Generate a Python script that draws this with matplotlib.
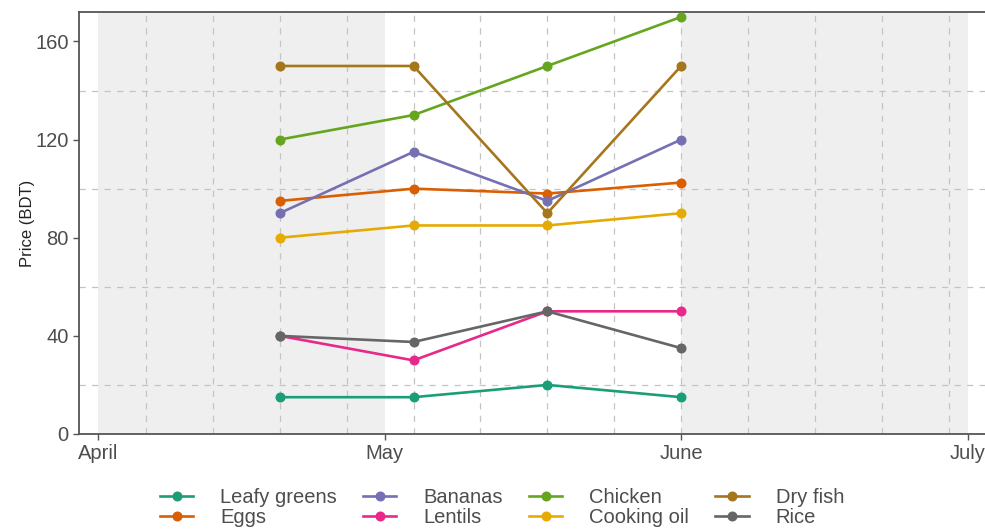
import datetime as dt

import matplotlib
matplotlib.use('Agg')
import matplotlib.pyplot as plt

plt.rcParams['font.family'] = ['Liberation Sans', 'DejaVu Sans']

# survey dates (biweekly Mondays, 2020)
dates = [dt.date(2020, 4, 20), dt.date(2020, 5, 4),
         dt.date(2020, 5, 18), dt.date(2020, 6, 1)]

items = ['Leafy greens', 'Eggs', 'Bananas', 'Lentils',
         'Chicken', 'Cooking oil', 'Dry fish', 'Rice']

leafy_greens = [15, 15, 20, 15]
eggs = [95, 100, 98, 102.5]
bananas = [90, 115, 95, 120]
lentils = [40, 30, 50, 50]
chicken = [120, 130, 150, 170]
cooking_oil = [80, 85, 85, 90]
dry_fish = [150, 150, 90, 150]
rice = [40, 37.5, 50, 35]

prices = [leafy_greens, eggs, bananas, lentils,
          chicken, cooking_oil, dry_fish, rice]
colors = ['#1B9E77', '#D95F02', '#7570B3', '#E7298A',
          '#66A61E', '#E6AB02', '#A6761D', '#666666']

month_ticks = [dt.date(2020, 4, 1), dt.date(2020, 5, 1),
               dt.date(2020, 6, 1), dt.date(2020, 7, 1)]
month_labels = ['April', 'May', 'June', 'July']
shaded = [(dt.date(2020, 4, 1), dt.date(2020, 5, 1)),
          (dt.date(2020, 6, 1), dt.date(2020, 7, 1))]

fig = plt.figure(figsize=(9.85, 5.29), dpi=100)
ax = fig.add_axes([0.0802, 0.1796, 0.9198, 0.7977])

for start, end in shaded:
    ax.axvspan(start, end, color='#EFEFEF', lw=0, zorder=0)

# dashed grid on weekly Mondays and the in-between y values
weeks = [dt.date(2020, 4, 6) + dt.timedelta(days=7 * i) for i in range(13)]
for w in weeks:
    ax.axvline(w, color='#C4C4C4', ls=(0, (5, 5)), lw=0.9, zorder=1)
for yv in [20, 60, 100, 140]:
    ax.axhline(yv, color='#C4C4C4', ls=(0, (5, 5)), lw=0.9, zorder=1)

for name, vals, c in zip(items, prices, colors):
    ax.plot(dates, vals, color=c, lw=1.9, marker='o', ms=6.2, label=name, zorder=3)

ax.set_xlim(dt.date(2020, 3, 30), dt.datetime(2020, 7, 2, 19))
ax.set_ylim(0, 172)
ax.set_xticks(month_ticks)
ax.set_xticklabels(month_labels)
ax.set_yticks([0, 40, 80, 120, 160])
ax.tick_params(colors='#555555', labelcolor='#4D4D4D', labelsize=14.5,
               length=4, width=1)
ax.set_ylabel('Price (BDT)', fontsize=12, color='#222222', labelpad=0)

for side in ['left', 'bottom', 'top']:
    ax.spines[side].set_color('#555555')
    ax.spines[side].set_linewidth(1.3)
ax.spines['right'].set_visible(False)

leg = fig.legend(loc='center left', bbox_to_anchor=(160 / 985, 1 - 507.5 / 529),
                 ncol=4, frameon=False, fontsize=14.5, labelcolor='#4D4D4D',
                 borderaxespad=0, borderpad=0,
                 handlelength=1.65, handletextpad=1.34, columnspacing=1.3,
                 labelspacing=0.05)

fig.savefig('out.png', dpi=100)
